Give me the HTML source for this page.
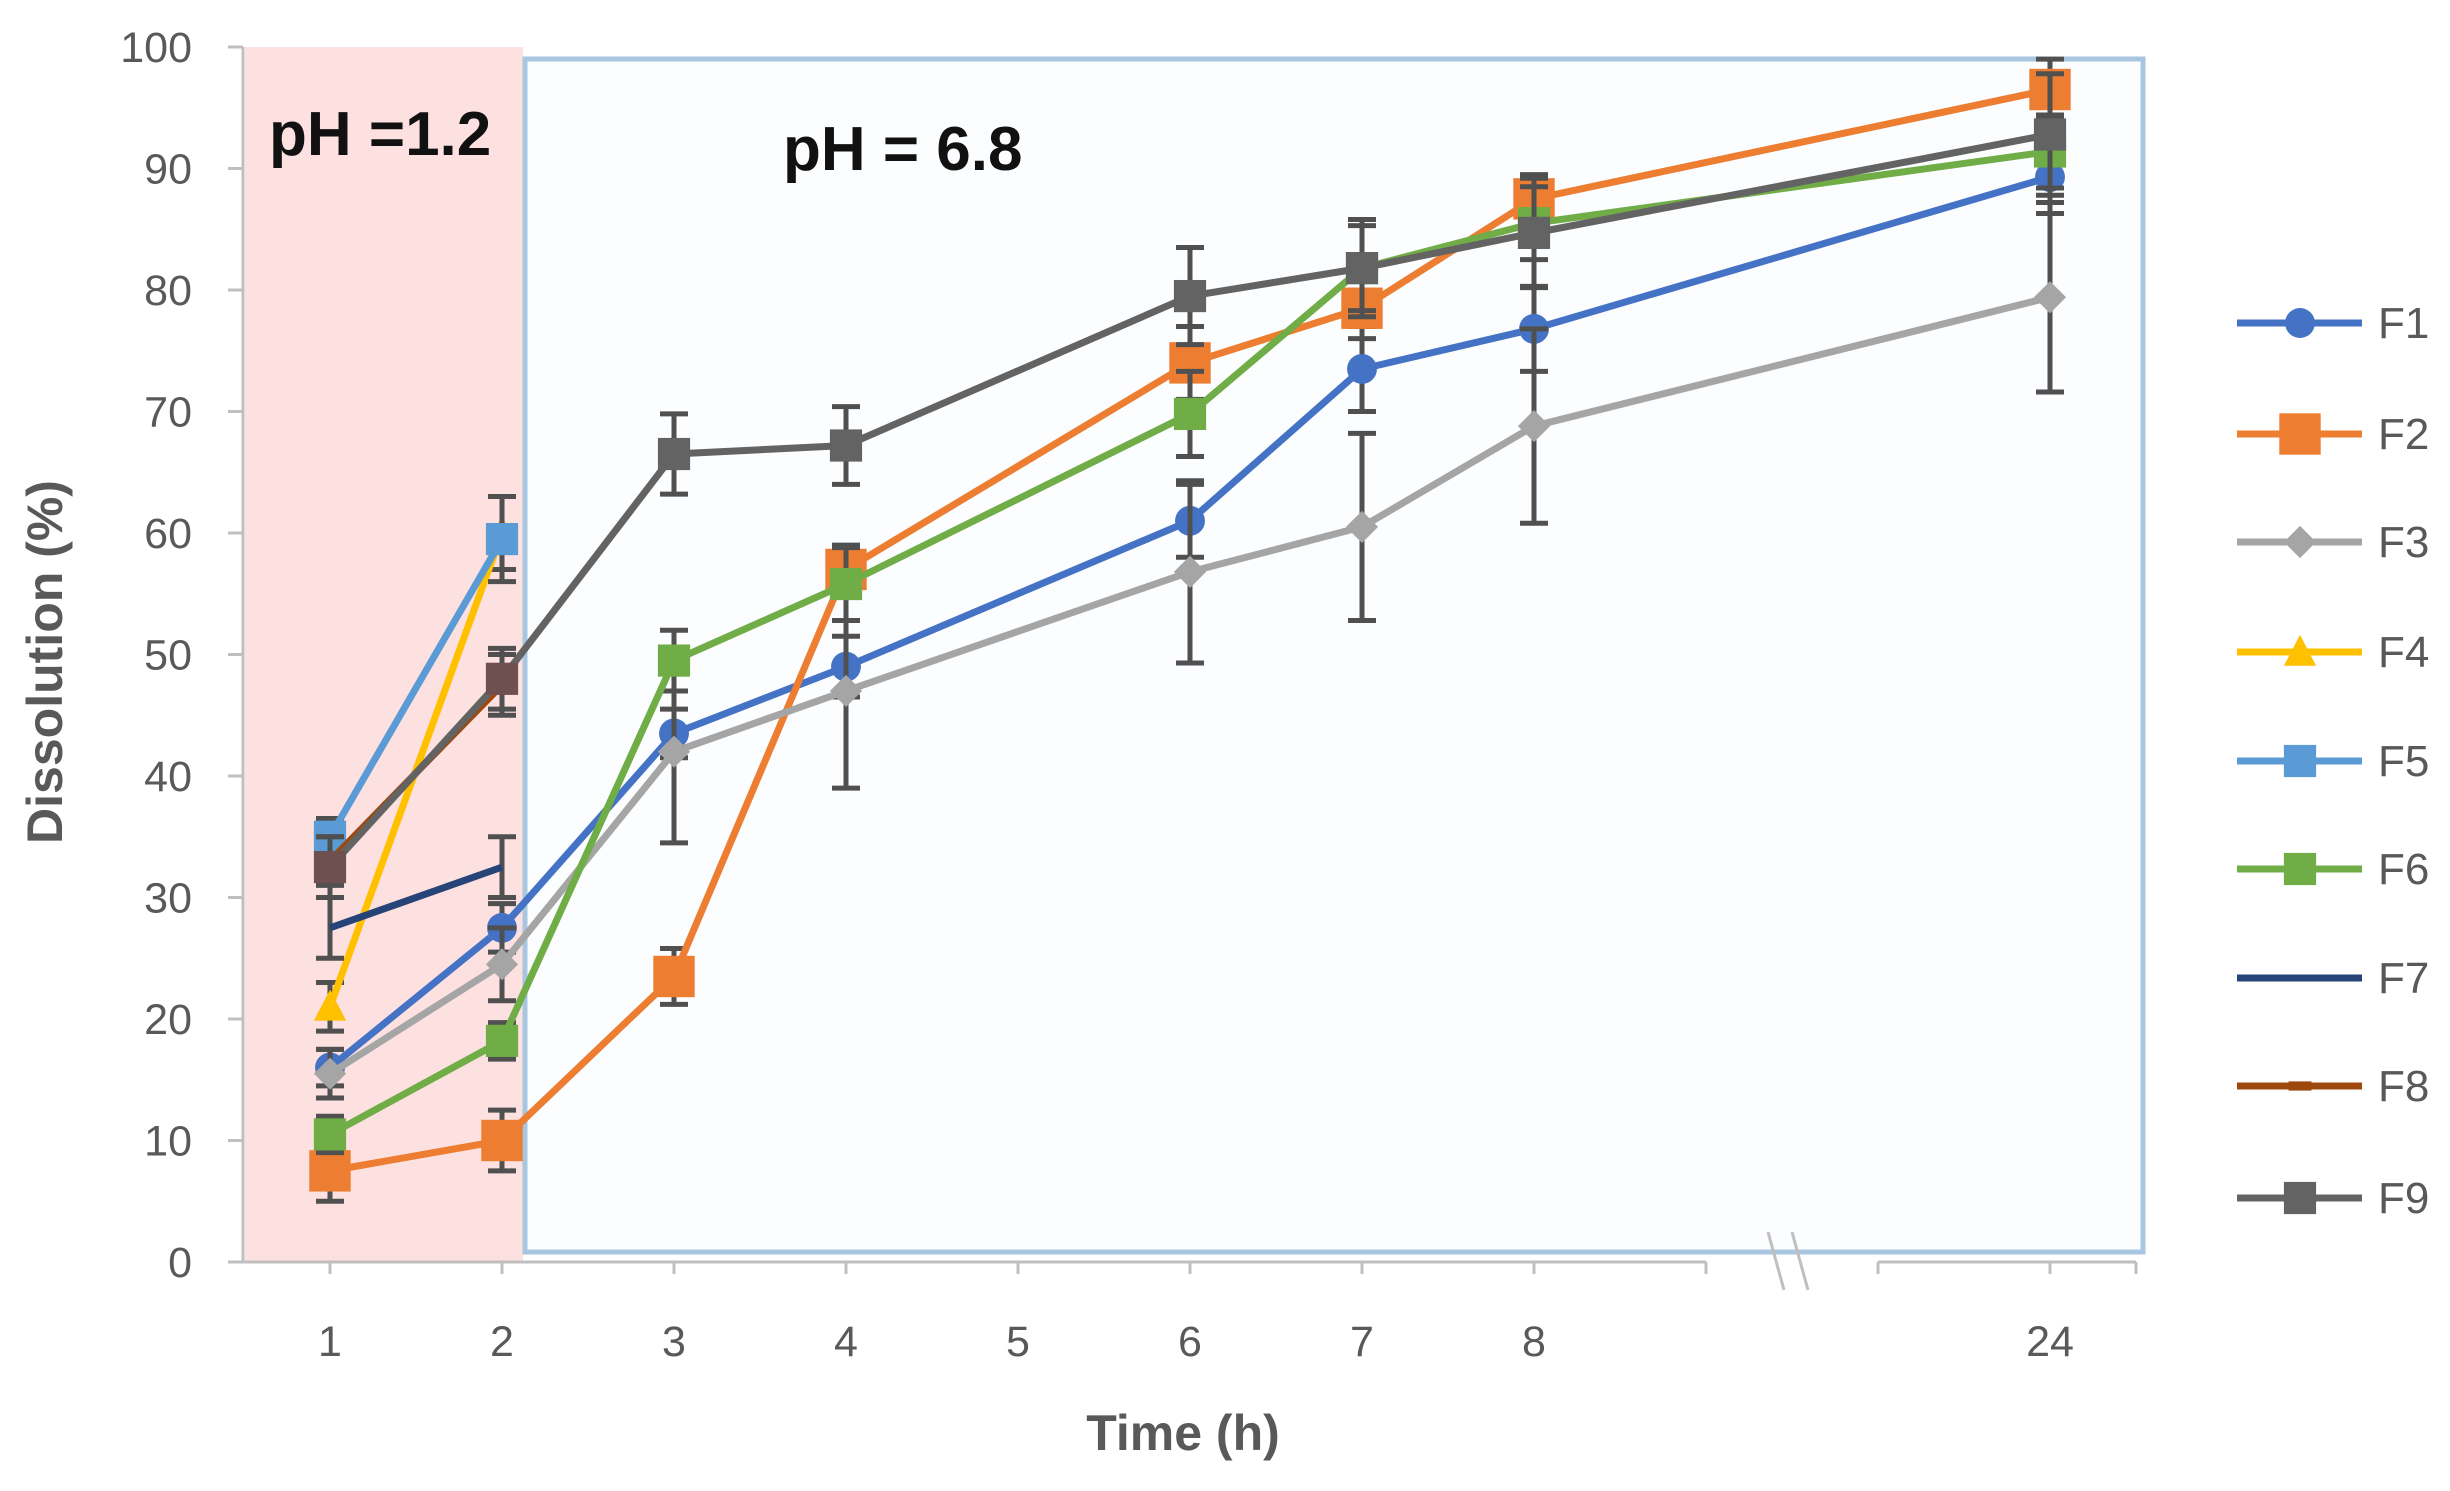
<!DOCTYPE html>
<html><head><meta charset="utf-8"><style>
html,body{margin:0;padding:0;background:#fff;}
svg{display:block;font-family:"Liberation Sans",sans-serif;}
</style></head><body>
<svg id="chart" width="2450" height="1491" viewBox="0 0 2450 1491" xmlns="http://www.w3.org/2000/svg">
<rect x="0" y="0" width="2450" height="1491" fill="#ffffff"/>
<rect x="245" y="47" width="278" height="1215" fill="#fde0e0"/>
<rect x="525" y="59" width="1618" height="1193" fill="#fbfdff" stroke="#a9c6e0" stroke-width="5"/>
<g id="axes"></g>
<g id="series"></g>
<text x="269" y="155" font-size="62" font-weight="bold" fill="#111">pH =1.2</text>
<text x="783" y="170" font-size="62" font-weight="bold" fill="#111">pH = 6.8</text>
<text x="1183" y="1450" font-size="50" font-weight="bold" fill="#595959" text-anchor="middle">Time (h)</text>
<text transform="translate(62,662) rotate(-90)" font-size="50" font-weight="bold" fill="#595959" text-anchor="middle">Dissolution (%)</text>
<g id="legend"></g>
</svg>
<script>
const categories = ['1','2','3','4','5','6','7','8','','','24'];
const times = ['1','2','3','4','6','7','8','24'];
const yTicks = [0,10,20,30,40,50,60,70,80,90,100];
const seriesNames = ['F1','F2','F3','F4','F5','F6','F7','F8','F9'];
const F1 = [16,27.5,43.5,49,61,73.5,76.8,89.3];
const F2 = [7.5,10,23.5,57,74,78.5,87.5,96.5];
const F3 = [15.5,24.5,42,47,56.8,60.5,68.8,79.4];
const F4 = [21,60];
const F5 = [35,59.5];
const F6 = [10.5,18.2,49.5,55.8,69.8,81.8,85.5,91.4];
const F7 = [27.5,32.5];
const F8 = [33,47.5];
const F9 = [32.5,48,66.5,67.2,79.5,81.8,84.7,92.8];
const E1 = [1.5,2,2,2.5,3,3.5,3.5,3];
const E2 = [2.5,2.5,2.3,2,3,2.5,2,2.5];
const E3 = [2,3,7.5,8,7.5,7.7,8,7.8];
const E4 = [2,3];
const E5 = [1.5,3.5];
const E6 = [1.5,1.5,2.5,3,3.5,3.5,3,3];
const E7 = [2.5,2.5];
const E8 = [2,2.5];
const E9 = [2.5,2.5,3.3,3.2,4,4,4.5,5];

const NS='http://www.w3.org/2000/svg';
const X0=330, DX=172, Y0=1262, PER=12.15;
function xPos(label){return X0+DX*categories.indexOf(label);}
function yPos(v){return Y0-v*PER;}
function mk(tag,attrs,parent){const e=document.createElementNS(NS,tag);for(const k in attrs)e.setAttribute(k,attrs[k]);parent.appendChild(e);return e;}

const axes=document.getElementById('axes');
let yl=mk('line',{x1:243,y1:yPos(100),x2:243,y2:Y0,stroke:'#bfbfbf','stroke-width':3},axes);


yTicks.forEach(v=>{
  const t=mk('line',{x1:228,y1:yPos(v),x2:243,y2:yPos(v),stroke:'#bfbfbf','stroke-width':3},axes);
  
  
  const l=mk('text',{x:192,y:yPos(v)+15,'font-size':43,fill:'#595959','text-anchor':'end'},axes);
  l.textContent=v;
  
  
});
const xEnd=X0+DX*(categories.length-0.5);
let xa1=mk('line',{x1:243,y1:Y0,x2:xPos('8')+DX,y2:Y0,stroke:'#bfbfbf','stroke-width':3},axes);


let xa2=mk('line',{x1:X0+DX*9,y1:Y0,x2:xEnd,y2:Y0,stroke:'#bfbfbf','stroke-width':3},axes);


const bx=X0+DX*8.5;
[-12,12].forEach(o=>{
  const b=mk('line',{x1:bx+o-12,y1:Y0-30,x2:bx+o+4,y2:Y0+28,stroke:'#bfbfbf','stroke-width':3},axes);
  
  
});
categories.forEach((c,i)=>{
  const x=X0+DX*i;
  const t=mk('line',{x1:x,y1:Y0,x2:x,y2:Y0+12,stroke:'#bfbfbf','stroke-width':3},axes);
  
  
  if(c){
    const l=mk('text',{x:x,y:1356,'font-size':43,fill:'#595959','text-anchor':'middle'},axes);
    l.textContent=c;
    
    
  }
});
let xe=mk('line',{x1:xEnd,y1:Y0,x2:xEnd,y2:Y0+12,stroke:'#bfbfbf','stroke-width':3},axes);



const vals=[F1,F2,F3,F4,F5,F6,F7,F8,F9];
const errs=[E1,E2,E3,E4,E5,E6,E7,E8,E9];
const colors=['#4472C4','#ED7D31','#A5A5A5','#FFC000','#5B9BD5','#70AD47','#264478','#9E480E','#636363'];
const markers=['circle','bigsquare','diamond','triangle','square','square','none','dash','square'];

function drawMarker(g,type,x,y,col,scale){
  const s=scale||1.15;let m=null;
  if(type==='circle')m=mk('circle',{cx:x,cy:y,r:13*s,fill:col},g);
  else if(type==='bigsquare')m=mk('rect',{x:x-18*s,y:y-18*s,width:36*s,height:36*s,fill:col},g);
  else if(type==='square')m=mk('rect',{x:x-14*s,y:y-14*s,width:28*s,height:28*s,fill:col},g);
  else if(type==='diamond')m=mk('polygon',{points:`${x},${y-14*s} ${x+14*s},${y} ${x},${y+14*s} ${x-14*s},${y}`,fill:col},g);
  else if(type==='triangle')m=mk('polygon',{points:`${x},${y-15*s} ${x+14*s},${y+12*s} ${x-14*s},${y+12*s}`,fill:col},g);
  else if(type==='dash')m=mk('rect',{x:x-10*s,y:y-4*s,width:20*s,height:8*s,fill:col},g);
  if(m){}
}

const sg=document.getElementById('series');
vals.forEach((arr,si)=>{
  const g=mk('g',{},sg);
  
  
  const pts=arr.map((v,i)=>[xPos(times[i]),yPos(v)]);
  arr.forEach((v,i)=>{
    const x=xPos(times[i]),e=errs[si][i];
    const eb=mk('path',{d:`M${x},${yPos(v-e)}V${yPos(v+e)}M${x-14},${yPos(v-e)}h28M${x-14},${yPos(v+e)}h28`,stroke:'#505050','stroke-width':5,fill:'none'},g);
    
    
  });
  const pl=mk('polyline',{points:pts.map(p=>p.join(',')).join(' '),fill:'none',stroke:colors[si],'stroke-width':7,'stroke-linejoin':'round'},g);
  
  
  pts.forEach((p,i)=>{
    const col=(si===8&&i<2)?'#6e5050':colors[si];
    drawMarker(g,markers[si],p[0],p[1],col);
  });
});

const lg=document.getElementById('legend');
const legY=[323,434,542,652,761,869,978,1086,1198];
seriesNames.forEach((n,i)=>{
  const g=mk('g',{},lg);
  
  
  const y=legY[i];
  mk('line',{x1:2237,y1:y,x2:2362,y2:y,stroke:colors[i],'stroke-width':7},g);
  drawMarker(g,markers[i],2300,y,colors[i]);
  const t=mk('text',{x:2378,y:y+15,'font-size':44,fill:'#595959'},g);
  t.textContent=n;
});
</script>
</body></html>
